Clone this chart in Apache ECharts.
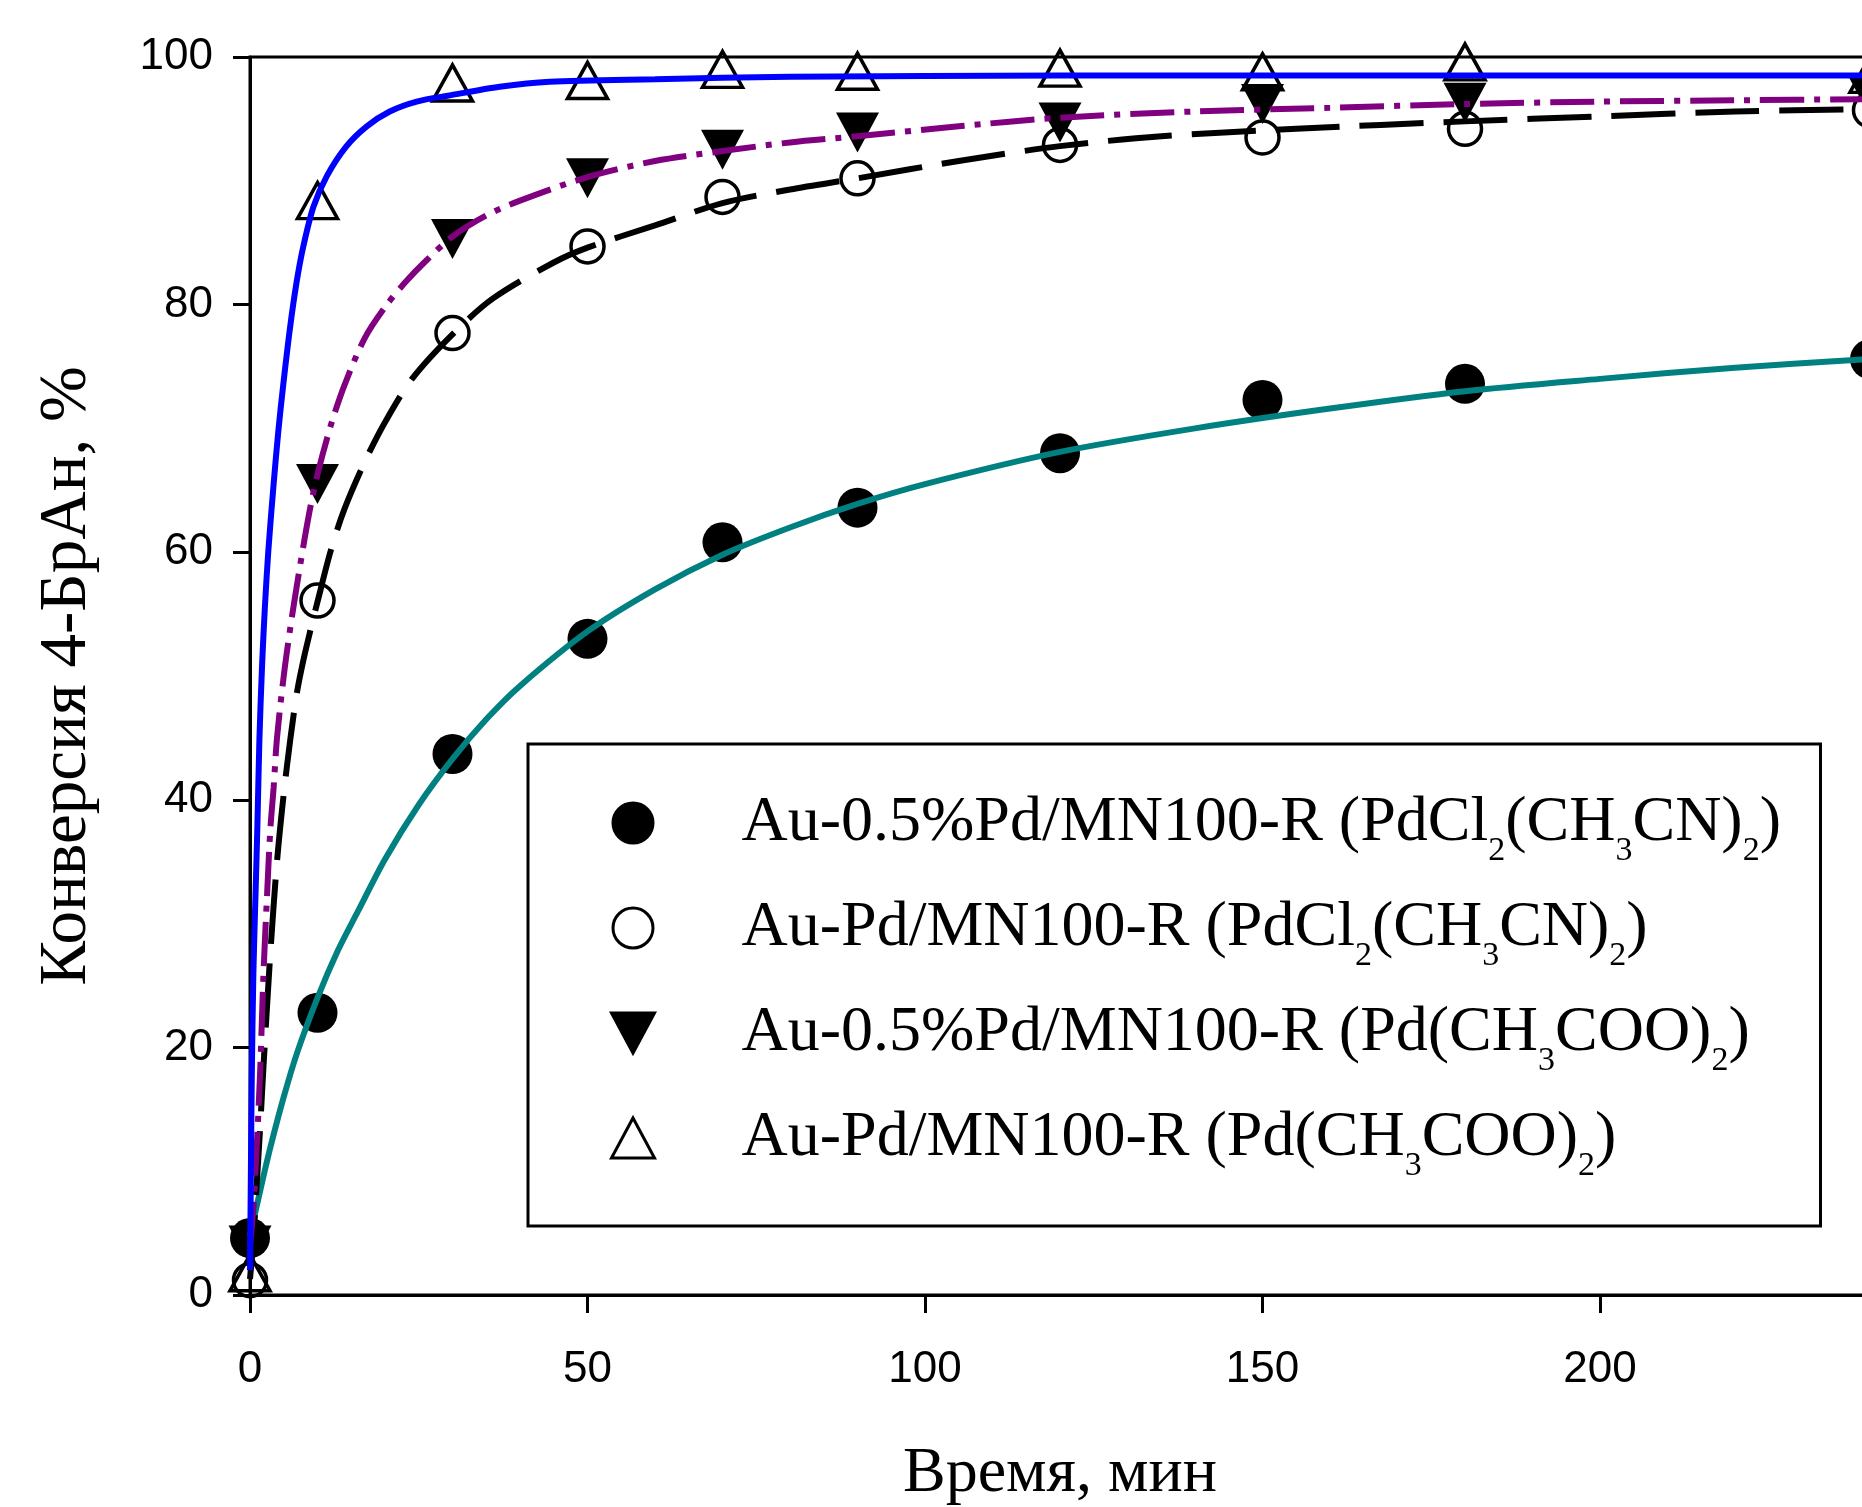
<!DOCTYPE html>
<html><head><meta charset="utf-8">
<script src="https://cdn.jsdelivr.net/npm/echarts@6/dist/echarts.min.js"></script>
<style>html,body{margin:0;padding:0;background:#fff}#c{width:1862px;height:1507px}</style>
</head><body><div id="c"></div>
<script>
// ---- data ----
const times = [0, 10, 30, 50, 70, 90, 120, 150, 180, 240];
const convA = [4.6, 22.8, 43.7, 53.0, 60.8, 63.6, 68.0, 72.3, 73.6, 75.6];   // filled circles
const convB = [1.2, 56.1, 77.7, 84.7, 88.7, 90.2, 92.9, 93.5, 94.2, 95.7];   // open circles
const convC = [4.0, 65.5, 85.3, 90.2, 92.5, 93.9, 94.7, 96.2, 96.3, 96.8];   // filled down triangles
const convD = [1.8, 88.4, 97.9, 98.1, 99.0, 98.85, 99.1, 98.8, 99.6, 98.6]; // open triangles

// fitted curves
const fitAX = [0,1,2,3,5,7,10,13,16,20,25,30,35,40,50,60,70,80,90,100,120,140,160,180,200,220,240];
const fitAY = [4.8,7.2,9.6,11.9,16.0,19.6,24.0,27.8,31.0,35.2,39.6,43.3,46.5,49.2,53.6,57.0,59.8,62.0,63.9,65.5,68.1,70.0,71.6,73.0,74.0,74.9,75.6];
const fitBX = [0,0.5,1,1.5,2,3,4,5,6,7,8,9,10,12,14,17,20,24,30,36,45,50,60,70,80,90,105,120,135,155,180,200,220,240];
const fitBY = [1.3,4.5,9,13.5,18.5,27.5,35,40.5,45,48.8,51.5,53.8,56,60.2,63.5,67.3,70.5,74,77.6,80.5,83.4,84.6,86.4,88.2,89.3,90.2,91.6,92.8,93.6,94.2,94.8,95.2,95.6,95.8];
const fitCX = [0,0.5,1,1.5,2,2.5,3,3.5,4,5,6,7,8,9,10,12,14,17,20,23,26,30,35,40,50,60,70,80,90,105,120,140,160,180,200,220,240];
const fitCY = [4,7,12,18,26,32,37.5,41,45,50,54,57.5,60.8,63.8,66.3,70.3,73.5,77.3,79.8,81.8,83.5,85.5,87.2,88.4,90.3,91.6,92.4,93.1,93.6,94.4,95.1,95.6,95.9,96.2,96.4,96.5,96.6];
const fitDX = [0,0.1,0.25,0.5,0.8,1.1,1.4,1.8,2.2,2.7,3.5,4.2,4.9,5.9,6.9,7.9,9.4,11.4,14.3,17.3,20.7,24.7,29.6,37,44.4,60,80,120,240];
const fitDY = [2,8,17,26,32,38,45,51,55.5,60,65.5,69.8,73.4,78,81.8,84.7,87.9,90.4,92.8,94.4,95.6,96.4,96.9,97.6,98.0,98.2,98.4,98.5,98.5];

const seriesNames = [
  'Au-0.5%Pd/MN100-R (PdCl2(CH3CN)2)',
  'Au-Pd/MN100-R (PdCl2(CH3CN)2)',
  'Au-0.5%Pd/MN100-R (Pd(CH3COO)2)',
  'Au-Pd/MN100-R (Pd(CH3COO)2)'
];
const legendLabels = [
  '{g| }Au-0.5%Pd/MN100-R (PdCl{s|2}(CH{s|3}CN){s|2})',
  '{g| }Au-Pd/MN100-R (PdCl{s|2}(CH{s|3}CN){s|2})',
  '{g| }Au-0.5%Pd/MN100-R (Pd(CH{s|3}COO){s|2})',
  '{g| }Au-Pd/MN100-R (Pd(CH{s|3}COO){s|2})'
];
const xTitle = 'Время, мин';
const yTitle = 'Конверсия 4-БрАн, %';

// ---- build ----
const zip = (xs, ys) => xs.map((x, i) => [x, ys[i]]);
const serif = 'Liberation Serif';
const sans = 'Liberation Sans';
const downTriangle = 'path://M0,0L43,0L21.5,40Z';

const chart = echarts.init(document.getElementById('c'), null, {renderer: 'canvas'});
const lineBase = {type: 'line', showSymbol: false, symbol: 'none', silent: true, z: 3,
  smooth: 0.3, emphasis: {disabled: true}};
const scatBase = {type: 'scatter', silent: true, z: 2, emphasis: {disabled: true}};

chart.setOption({
  animation: false,
  backgroundColor: '#fff',
  grid: {left: 250, top: 57, width: 1620, height: 1238, show: true,
         borderColor: '#000', borderWidth: 3, backgroundColor: 'transparent',
         containLabel: false, outerBoundsMode: 'none'},
  xAxis: {
    type: 'value', min: 0, max: 240, interval: 50,
    name: xTitle, nameLocation: 'middle', nameGap: 147,
    nameTextStyle: {fontFamily: serif, fontSize: 64, color: '#000'},
    axisLine: {show: true, lineStyle: {color: '#000', width: 3}},
    axisTick: {show: true, length: 18, lineStyle: {color: '#000', width: 3}},
    axisLabel: {fontFamily: sans, fontSize: 44, color: '#000', margin: 53, showMaxLabel: false},
    splitLine: {show: false}
  },
  yAxis: {
    type: 'value', min: 0, max: 100, interval: 20,
    name: yTitle, nameLocation: 'middle', nameGap: 149,
    nameTextStyle: {fontFamily: serif, fontSize: 67, color: '#000'},
    axisLine: {show: true, lineStyle: {color: '#000', width: 3}},
    axisTick: {show: true, length: 17, lineStyle: {color: '#000', width: 3}},
    axisLabel: {fontFamily: sans, fontSize: 44, color: '#000', margin: 37},
    splitLine: {show: false}
  },
  legend: {
    data: seriesNames,
    orient: 'vertical', left: 528, top: 744,
    padding: [34, 0, 43, 82],
    itemGap: 15, itemWidth: 43, itemHeight: 40,
    borderColor: '#000', borderWidth: 3, backgroundColor: '#fff',
    selectedMode: false,
    itemStyle: {borderWidth: 3, opacity: 1},
    formatter: name => legendLabels[seriesNames.indexOf(name)],
    textStyle: {
      fontFamily: serif, fontSize: 64, color: '#000', lineHeight: 90, width: 1161,
      rich: {
        g: {width: 82, fontFamily: serif, fontSize: 64},
        s: {fontFamily: serif, fontSize: 34, lineHeight: 34, verticalAlign: 'bottom', color: '#000'}
      }
    }
  },
  series: [
    Object.assign({}, scatBase, {name: seriesNames[0], symbol: 'circle', symbolSize: 40,
      itemStyle: {color: '#000', borderColor: '#000', borderWidth: 0, opacity: 1}, data: zip(times, convA)}),
    Object.assign({}, scatBase, {name: seriesNames[1], symbol: 'circle', symbolSize: 33,
      itemStyle: {color: 'rgba(255,255,255,0)', borderColor: '#000', borderWidth: 3.5, opacity: 1}, data: zip(times, convB)}),
    Object.assign({}, scatBase, {name: seriesNames[2], symbol: downTriangle, symbolSize: [43, 40],
      itemStyle: {color: '#000', borderColor: '#000', borderWidth: 0, opacity: 1}, data: zip(times, convC)}),
    Object.assign({}, scatBase, {name: seriesNames[3], symbol: 'triangle', symbolSize: [40, 36],
      itemStyle: {color: 'rgba(255,255,255,0)', borderColor: '#000', borderWidth: 3.5, opacity: 1}, data: zip(times, convD)}),
    Object.assign({}, lineBase, {name: 'fitA', data: zip(fitAX, fitAY),
      lineStyle: {color: '#008080', width: 6, type: 'solid', opacity: 1}}),
    Object.assign({}, lineBase, {name: 'fitB', data: zip(fitBX, fitBY),
      lineStyle: {color: '#000000', width: 6, type: [64, 20], opacity: 1}}),
    Object.assign({}, lineBase, {name: 'fitC', data: zip(fitCX, fitCY),
      lineStyle: {color: '#800080', width: 6, type: [44, 10, 6, 10], opacity: 1}}),
    Object.assign({}, lineBase, {name: 'fitD', data: zip(fitDX, fitDY),
      lineStyle: {color: '#0000FF', width: 6, type: 'solid', opacity: 1}})
  ]
});
</script>
</body></html>
